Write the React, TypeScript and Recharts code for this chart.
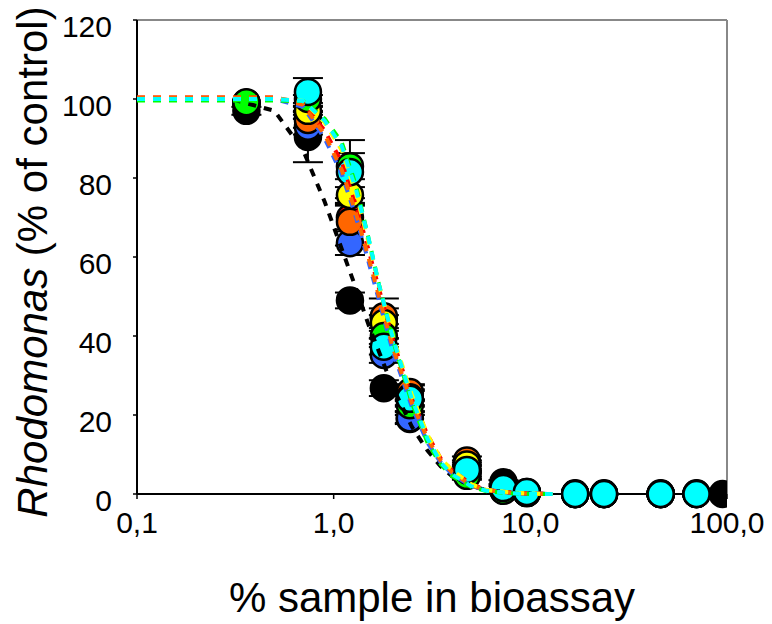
import { ErrorBar, Label, ReferenceLine, Scatter, ScatterChart, XAxis, YAxis } from 'recharts'

// sample concentrations (% sample in bioassay)
const conc = [0.36, 0.74, 1.21, 1.8, 2.44, 4.76, 7.3, 9.6, 16.9, 23.7, 46, 70]
const blackConc = [0.36, 0.74, 1.21, 1.8, 2.44, 4.76, 7.3, 9.6, 16.9, 23.7, 46, 95]

// growth, % of control
const blackY = [97, 90.4, 49, 26.8, 19, 5, 3, 0.5, 0, 0, 0, 0]
const blueY = [99, 93, 63.5, 35.2, 19.2, 5, 1, 0.3, 0, 0, 0, 0]
const redY = [99, 96, 70, 44.5, 25.5, 7, 1, 0.3, 0, 0, 0, 0]
const orangeY = [99, 94.7, 68.9, 45, 25.8, 8.5, 1.2, 0.4, 0.2, 0.2, 0.2, 0.2]
const yellowY = [99, 97, 75.7, 43.3, 24.5, 7.5, 1, 0.3, 0, 0, 0, 0]
const greenY = [99.2, 100, 83, 40, 22.5, 4.6, 0.8, 0.2, 0, 0, 0, 0]
const cyanY = [null, 101.8, 81.5, 37.3, 24.1, 6.1, 1.5, 0.5, 0, 0, 0, 0]

// standard deviations
const blackErr = [1, 6.4, 2, 2, 1, 0.5, 0.5, 0, 0, 0, 0, 0]
const blueErr = [0, 2, 3, 2, 1.5, 1, 0, 0, 0, 0, 0, 0]
const redErr = [0, 1, 3, 5, 2, 1, 0, 0, 0, 0, 0, 0]
const orangeErr = [0, 2, 6, 2, 2, 1, 0, 0, 0, 0, 0, 0]
const yellowErr = [0, 1, 2, 2, 2, 1, 0, 0, 0, 0, 0, 0]
const greenErr = [0, 1, 3.3, 2, 1.5, 1, 0, 0, 0, 0, 0, 0]
const cyanErr = [0, 3.5, 8.1, 2, 2, 1, 0.5, 0, 0, 0, 0, 0]

// fitted dose-response curves
const curveX = [0.1, 0.3, 0.5, 0.7, 0.9, 1.1, 1.3, 1.5, 1.7, 2.0, 2.5, 3.0, 3.5, 4.0, 5.0, 6.0, 8.0, 10, 13]
const blackFit = [100, 100, 97, 87, 74, 62, 52, 43, 36, 27, 17, 11, 7, 4.5, 2, 1, 0.3, 0.1, 0]
const blueFit = [100, 100, 100, 98, 90, 81, 70, 59, 49, 36, 22, 13, 8, 5, 2, 1, 0.3, 0.1, 0]
const redFit = [100.4, 100.4, 100.4, 99, 92, 84, 73, 62, 52, 39, 24, 15, 9, 6, 2.5, 1, 0.4, 0.1, 0]
const orangeFit = [100.4, 100.4, 100.4, 98.5, 91, 82, 71, 60, 50, 37, 23, 14, 8.5, 5.5, 2.2, 1, 0.3, 0.1, 0]
const yellowFit = [100, 100, 100, 99.5, 94, 87, 76, 64, 53, 40, 25, 15, 9, 6, 2.5, 1, 0.4, 0.1, 0]
const greenFit = [99.6, 99.6, 99.6, 99.5, 95, 89, 78, 65, 53, 39, 23, 13, 7.5, 4.5, 1.8, 0.7, 0.2, 0, 0]
const cyanFit = [100, 100, 100, 99.5, 94.5, 88, 77, 65, 53, 39.5, 24, 14, 8, 5, 2, 0.8, 0.2, 0, 0]

const xTicks = [0.1, 1, 10, 100]
const yTicks = [0, 20, 40, 60, 80, 100, 120]

const FONT = '"Liberation Sans", Arial, sans-serif'

type Pt = { x: number; y: number; e: number }

function points(xs: number[], ys: (number | null)[], es: number[]): Pt[] {
  const out: Pt[] = []
  xs.forEach((x, i) => {
    const y = ys[i]
    if (y !== null) out.push({ x, y, e: es[i] })
  })
  return out
}

function curve(ys: number[]) {
  return curveX.map((x, i) => ({ x, y: ys[i] }))
}

const series = [
  { color: '#000000', pts: points(blackConc, blackY, blackErr), fit: curve(blackFit) },
  { color: '#3366FF', pts: points(conc, blueY, blueErr), fit: curve(blueFit) },
  { color: '#FF0000', pts: points(conc, redY, redErr), fit: curve(redFit) },
  { color: '#FF6600', pts: points(conc, orangeY, orangeErr), fit: curve(orangeFit) },
  { color: '#FFFF00', pts: points(conc, yellowY, yellowErr), fit: curve(yellowFit) },
  { color: '#00FF00', pts: points(conc, greenY, greenErr), fit: curve(greenFit) },
  { color: '#00FFFF', pts: points(conc, cyanY, cyanErr), fit: curve(cyanFit) },
]

const fmtX = (v: number) => v.toFixed(1).replace('.', ',')

function XTick({ x, y, payload }: any) {
  return (
    <text x={x} y={y} dy={32} textAnchor="middle" fontSize={30} fontFamily={FONT} fill="#000">
      {fmtX(payload.value)}
    </text>
  )
}

function YTick({ x, y, payload }: any) {
  return (
    <text x={x} y={y} dy={17} textAnchor="end" fontSize={30} fontFamily={FONT} fill="#000">
      {payload.value}
    </text>
  )
}

const dot = (color: string) => (p: any) =>
  <circle cx={p.cx} cy={p.cy} r={13} fill={color} stroke="#000" strokeWidth={2.5} />

export default function App() {
  return (
    <div style={{ position: 'absolute', left: 0, top: 0, background: '#fff' }}>
      <ScatterChart width={772} height={624} margin={{ top: 20, right: 45, bottom: 0, left: 0 }}>
        <XAxis
          dataKey="x"
          type="number"
          scale="log"
          domain={[0.1, 100]}
          ticks={xTicks}
          allowDataOverflow
          height={130}
          tick={XTick}
          tickSize={5}
          axisLine={{ stroke: '#000', strokeWidth: 2 }}
          tickLine={{ stroke: '#000', strokeWidth: 1.5 }}
        >
          <Label
            content={() => (
              <text x={432} y={612} textAnchor="middle" fontSize={42} fontFamily={FONT} fill="#000">
                % sample in bioassay
              </text>
            )}
          />
        </XAxis>
        <YAxis
          dataKey="y"
          type="number"
          domain={[0, 120]}
          ticks={yTicks}
          width={137}
          tick={YTick}
          tickSize={4}
          tickMargin={21}
          axisLine={{ stroke: '#000', strokeWidth: 2 }}
          tickLine={{ stroke: '#000', strokeWidth: 1.5 }}
        >
          <Label
            content={() => (
              <text
                transform="translate(47,262) rotate(-90)"
                textAnchor="middle"
                fontSize={42}
                fontFamily={FONT}
                fill="#000"
              >
                <tspan fontStyle="italic">Rhodomonas</tspan>
                <tspan> (% of control)</tspan>
              </text>
            )}
          />
        </YAxis>
        <ReferenceLine y={120} stroke="#888" strokeWidth={2} />
        <ReferenceLine x={100} stroke="#888" strokeWidth={2} />
        {series.map((s, i) => (
          <Scatter key={`p${i}`} data={s.pts} shape={dot(s.color)} isAnimationActive={false}>
            <ErrorBar dataKey="e" direction="y" width={15} stroke="#000" strokeWidth={2} />
          </Scatter>
        ))}
        {series.map((s, i) => (
          <Scatter
            key={`f${i}`}
            data={s.fit}
            line={{ stroke: s.color, strokeWidth: 4, strokeDasharray: '8 8' }}
            lineType="joint"
            shape={() => <g />}
            isAnimationActive={false}
          />
        ))}
      </ScatterChart>
    </div>
  )
}
